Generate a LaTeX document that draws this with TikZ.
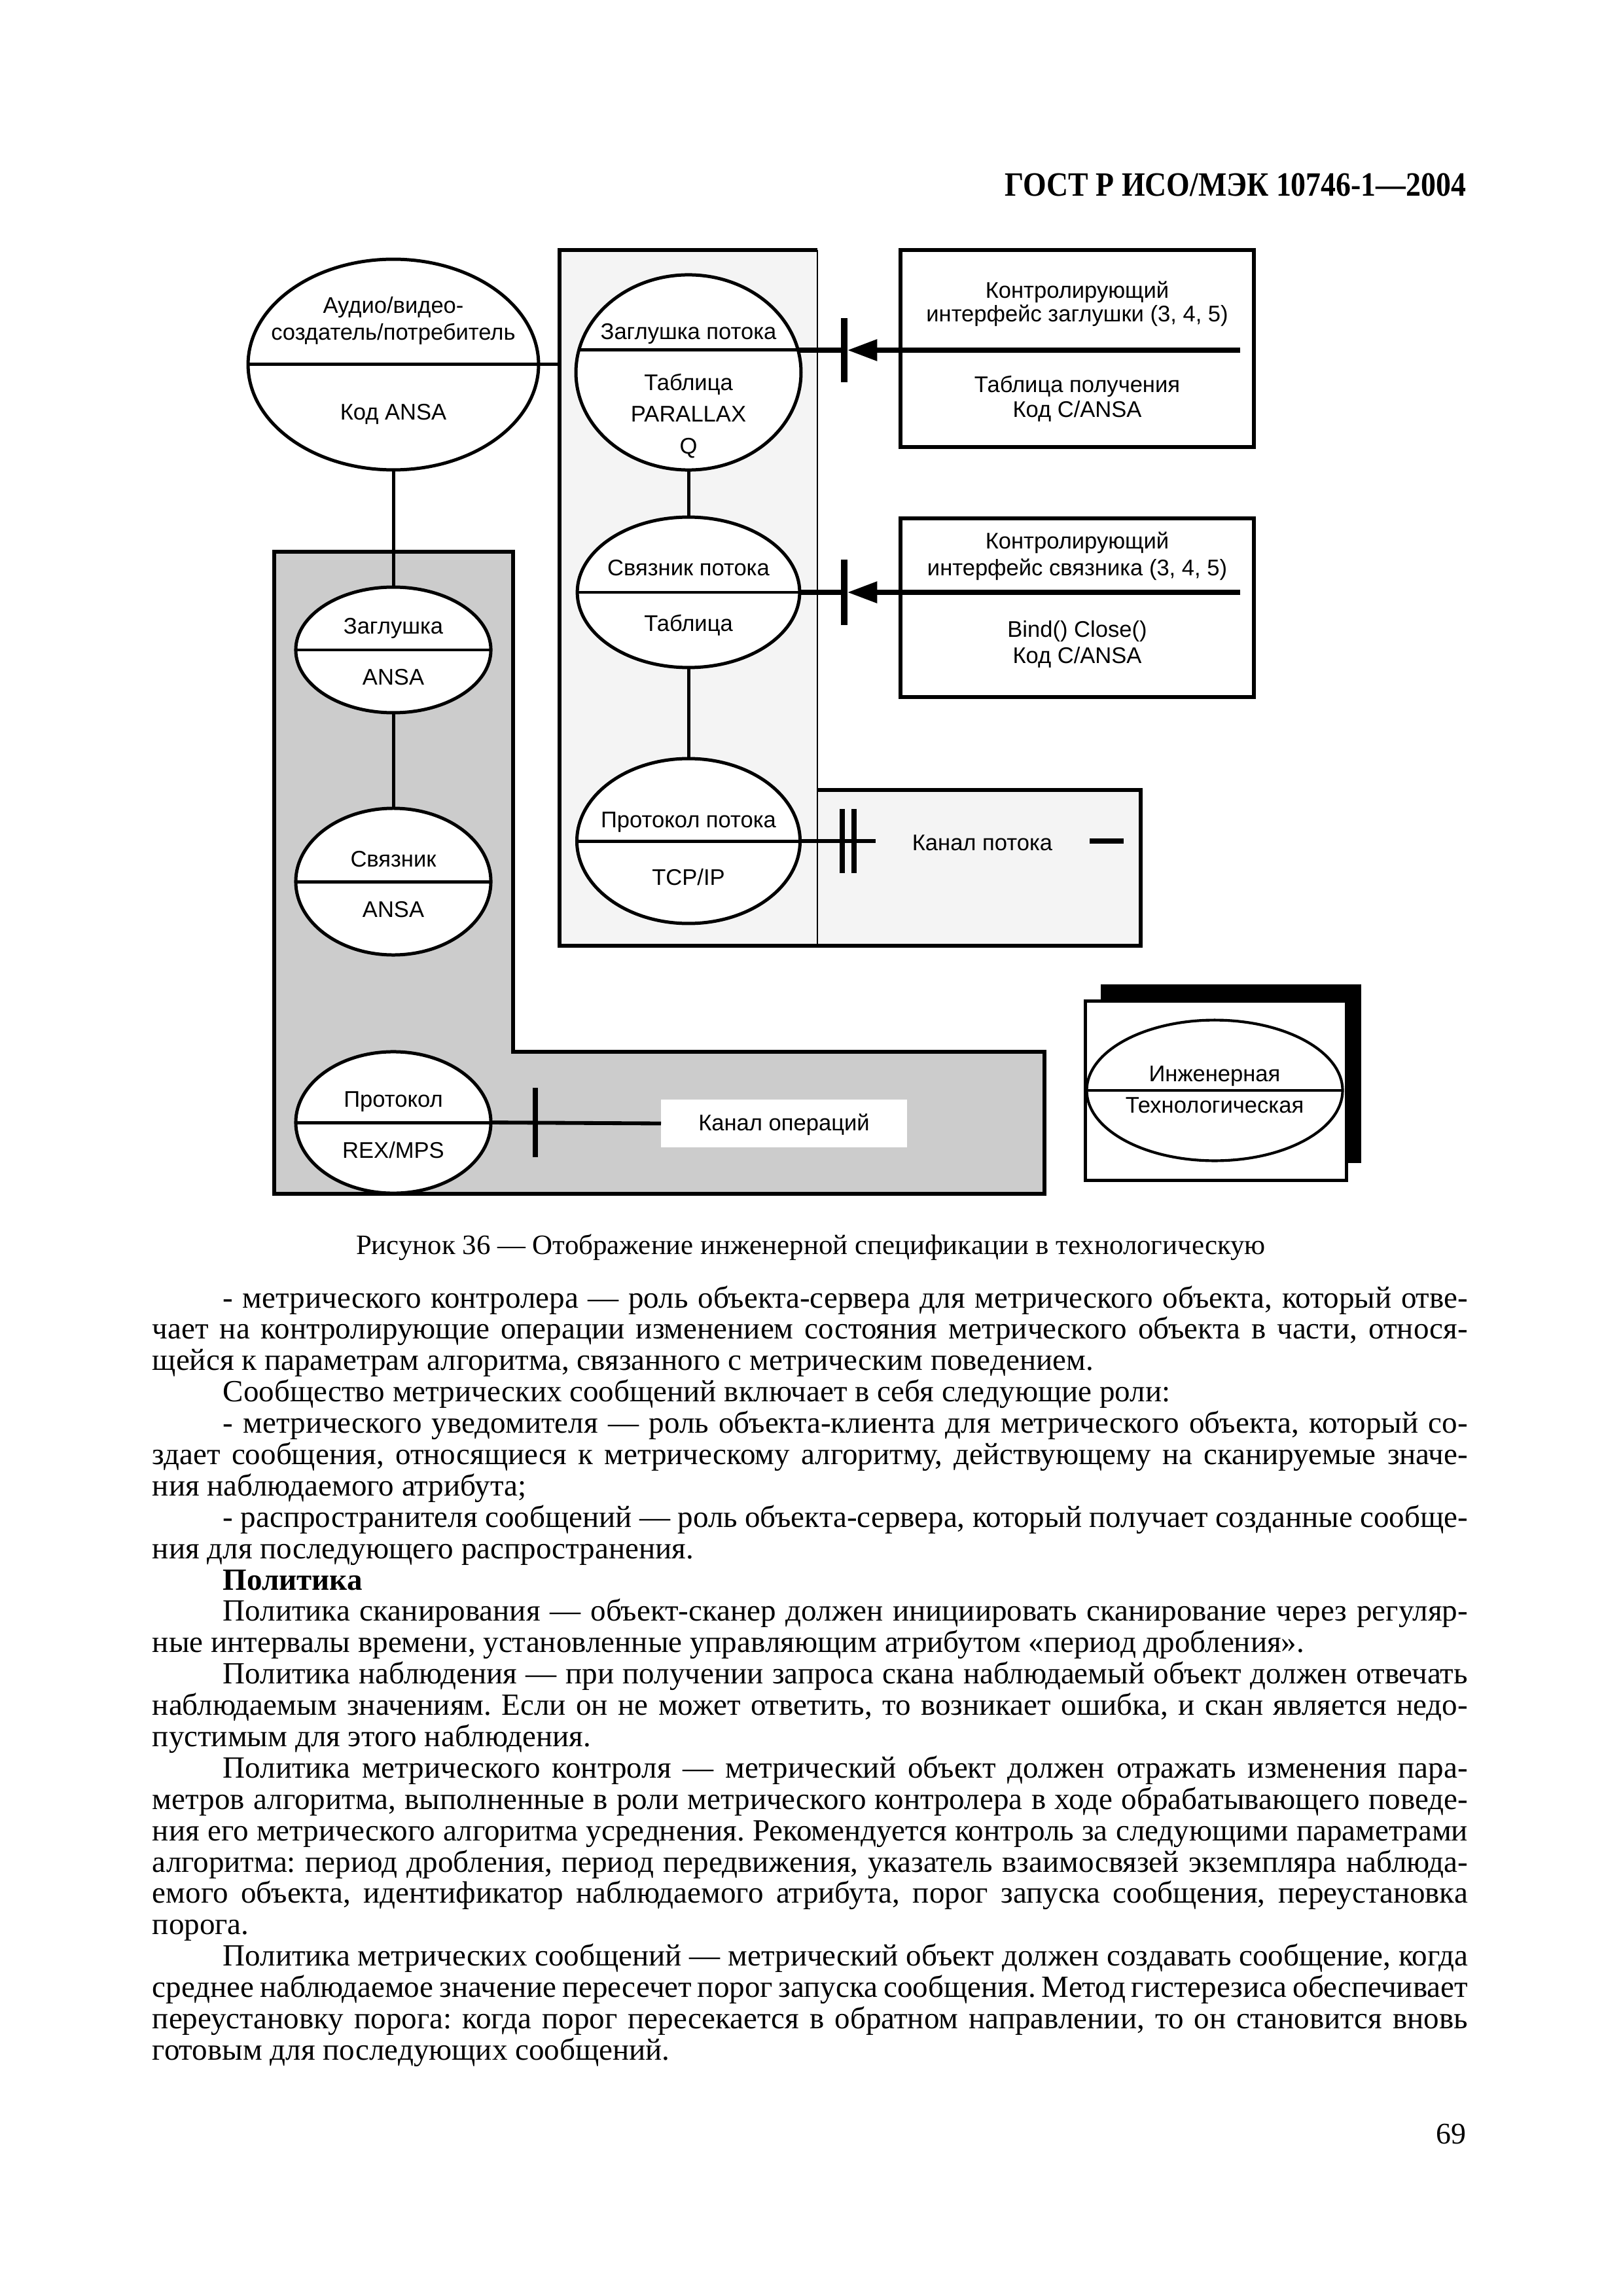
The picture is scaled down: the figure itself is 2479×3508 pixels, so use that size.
\documentclass[tikz,border=0pt]{standalone}
\usepackage{fontspec}
\setmainfont{Liberation Serif}
\newfontfamily\dgfont{Liberation Sans}
\usetikzlibrary{calc,arrows.meta,positioning,shapes.geometric}
\frenchspacing
\tikzset{
  obj/.style={ellipse, draw=black, line width=1.2pt, fill=white, inner sep=0pt, outer sep=0pt},
  lbl/.style={font=\dgfont\fontsize{8.3}{9.2}\selectfont, inner sep=0pt, anchor=base},
  link/.style={line width=1.2pt},
  iface/.style={line width=2pt},
  chan/.style={line width=1.4pt},
  ctrlbox/.style={draw=black, line width=1.4pt, fill=white, inner sep=0pt, outer sep=0pt},
  tick/.style={fill=black, inner sep=0pt, outer sep=0pt, minimum width=1.8pt},
  arr/.style={iface, -{Triangle[length=11pt,width=7.5pt]}},
  bodytext/.style={font=\fontsize{11.3}{11.5}\selectfont, inner sep=0pt}
}

\begin{document}
\begin{tikzpicture}[x=0.24014pt, y=-0.24014pt]
  \useasboundingbox (0,0) rectangle (2479,3508);

  % header
  \node[bodytext, font=\bfseries\fontsize{12.5}{14}\selectfont, anchor=base east] (gost) at (2241,300) {\scalebox{0.88}[1]{ГОСТ Р ИСО/МЭК 10746-1—2004}};

  % regions
  \draw[line width=1.5pt, fill=gray!40] (419,843) -- (784,843) -- (784,1607) -- (1596,1607) -- (1596,1824) -- (419,1824) -- cycle;
  \fill[gray!9] (855,382) rectangle (1249,1445);
  \fill[gray!9] (1249,1207) rectangle (1743,1445);
  \draw[line width=1.4pt] (1249,382) -- (855,382) -- (855,1445) -- (1743,1445) -- (1743,1207) -- (1249,1207);
  \draw[line width=0.5pt] (1249,382) -- (1249,1445);
  \coordinate (streamw) at (855,557);

  % control boxes
  \node[ctrlbox, minimum width=129.7pt, minimum height=72.3pt] (cb1) at (1646,532.5) {};
  \node[ctrlbox, minimum width=129.7pt, minimum height=65.6pt] (cb2) at (1646,928.5) {};
  \node[fill=white, inner sep=0pt, outer sep=0pt, minimum width=90.3pt, minimum height=17.5pt] (opsbox) at (1198,1716.5) {};

  % engineering / technology box
  \node[fill=black, inner sep=0pt, minimum width=95.6pt, minimum height=65.6pt] (enshadow) at (1881,1640.5) {};
  \node[ctrlbox, line width=1.2pt, minimum width=95.6pt, minimum height=65.6pt] (enbox) at (1858,1666.5) {};

  % objects
  \node[obj, minimum width=106.6pt, minimum height=77.3pt] (av) at (601,557) {};
  \node[obj, minimum width=82.6pt, minimum height=71.6pt] (zs) at (1052,569) {};
  \node[obj, minimum width=81.6pt, minimum height=55.2pt] (sp) at (1052,905) {};
  \node[obj, minimum width=81.9pt, minimum height=60.5pt] (pp) at (1052,1285) {};
  \node[obj, minimum width=71.6pt, minimum height=46.1pt] (zg) at (601,993) {};
  \node[obj, minimum width=71.6pt, minimum height=53.8pt] (sv) at (601,1347) {};
  \node[obj, minimum width=71.6pt, minimum height=51.9pt] (pr) at (601,1715) {};
  \node[obj, line width=1pt, minimum width=93.9pt, minimum height=51.6pt] (en) at (1856,1666) {};

  % dividers
  \draw[link] (av.west) -- (av.east);
  \draw[link] ($(zs.center)+(-167.5,-34)$) coordinate (zsl) -- ($(zs.center)+(167.5,-34)$) coordinate (zsr);
  \draw[link] (sp.west) -- (sp.east);
  \draw[link] (pp.west) -- (pp.east);
  \draw[link] (zg.west) -- (zg.east);
  \draw[link] (sv.west) -- (sv.east);
  \draw[link] (pr.west) -- (pr.east);
  \draw[line width=1pt] (en.west) -- (en.east);

  % links
  \draw[link] (av.east) -- (streamw);
  \draw[link] (av.south) -- (zg.north);
  \draw[link] (zg.south) -- (sv.north);
  \draw[link] (zs.south) -- (sp.north);
  \draw[link] (sp.south) -- (pp.north);

  % interfaces
  \node[tick, minimum width=2.2pt, minimum height=23.5pt] (t1) at (1290,535) {};
  \node[tick, minimum width=2.2pt, minimum height=24pt] (t2) at (1290,905) {};
  \coordinate (c1in) at (1895,535);
  \coordinate (c2in) at (1895,905);
  \draw[iface] (zsr) -- (t1);
  \draw[arr] (c1in) -- (t1);
  \draw[iface] (sp.east) -- (t2);
  \draw[arr] (c2in) -- (t2);

  % channels
  \node[tick, minimum height=23.5pt] (t3a) at (1287,1285) {};
  \node[tick, minimum height=23.5pt] (t3b) at (1305,1285) {};
  \coordinate (ppend) at (1338,1285);
  \coordinate (dasha) at (1665,1285);
  \coordinate (dashb) at (1717,1285);
  \draw[chan] (pp.east) -- (ppend);
  \draw[iface] (dasha) -- (dashb);
  \node[tick, minimum height=25.5pt] (t4) at (818,1715) {};
  \draw[chan] (pr.east) -- (opsbox.west);

  % labels
  \node[lbl] (av1) at (601,479) {Аудио/видео-};
  \node[lbl] (av2) at (601,520) {создатель/потребитель};
  \node[lbl] (av3) at (601,642) {Код ANSA};
  \node[lbl] (zs1) at (1052,519) {Заглушка потока};
  \node[lbl] (zs2) at (1052,597) {Таблица};
  \node[lbl] (zs3) at (1052,645) {PARALLAX};
  \node[lbl] (zs4) at (1052,694) {Q};
  \node[lbl] (sp1) at (1052,879) {Связник потока};
  \node[lbl] (sp2) at (1052,965) {Таблица};
  \node[lbl] (pp1) at (1052,1264) {Протокол потока};
  \node[lbl] (pp2) at (1052,1352) {TCP/IP};
  \node[lbl] (zg1) at (601,969) {Заглушка};
  \node[lbl] (zg2) at (601,1046) {ANSA};
  \node[lbl] (sv1) at (601,1324) {Связник};
  \node[lbl] (sv2) at (601,1401) {ANSA};
  \node[lbl] (pr1) at (601,1691) {Протокол};
  \node[lbl] (pr2) at (601,1769) {REX/MPS};
  \node[lbl] (en1) at (1856,1652) {Инженерная};
  \node[lbl] (en2) at (1856,1700) {Технологическая};
  \node[lbl] (cb11) at (1646,456) {Контролирующий};
  \node[lbl] (cb12) at (1646,492) {интерфейс заглушки (3, 4, 5)};
  \node[lbl] (cb13) at (1646,600) {Таблица получения};
  \node[lbl] (cb14) at (1646,638) {Код C/ANSA};
  \node[lbl] (cb21) at (1646,839) {Контролирующий};
  \node[lbl] (cb22) at (1646,879) {интерфейс связника (3, 4, 5)};
  \node[lbl] (cb23) at (1646,974) {Bind() Close()};
  \node[lbl] (cb24) at (1646,1014) {Код C/ANSA};
  \node[lbl] (chs) at (1501,1299) {Канал потока};
  \node[lbl] (cho) at (1198,1727) {Канал операций};

  % caption and text
  \node[bodytext, font=\fontsize{10.3}{12}\selectfont, anchor=base] (caption) at (1239,1916) {Рисунок 36 — Отображение инженерной спецификации в технологическую};
  \node[bodytext, anchor=base west, text width=482.7pt, align=justify] (body) at (232,1998) {\tolerance=9999\hyphenpenalty=10000\frenchspacing
    \hspace*{25.9pt}- метрического контролера — роль объекта-сервера для метрического объекта, который отве-\linebreak чает на контролирующие операции изменением состояния метрического объекта в части, относя-\linebreak щейся к параметрам алгоритма, связанного с метрическим поведением.\par
    \hspace*{25.9pt}Сообщество метрических сообщений включает в себя следующие роли:\par
    \hspace*{25.9pt}- метрического уведомителя — роль объекта-клиента для метрического объекта, который со-\linebreak здает сообщения, относящиеся к метрическому алгоритму, действующему на сканируемые значе-\linebreak ния наблюдаемого атрибута;\par
    \hspace*{25.9pt}- распространителя сообщений — роль объекта-сервера, который получает созданные сообще-\linebreak ния для последующего распространения.\par
    \hspace*{25.9pt}\textbf{Политика}\par
    \hspace*{25.9pt}Политика сканирования — объект-сканер должен инициировать сканирование через регуляр-\linebreak ные интервалы времени, установленные управляющим атрибутом «период дробления».\par
    \hspace*{25.9pt}Политика наблюдения — при получении запроса скана наблюдаемый объект должен отвечать\linebreak наблюдаемым значениям. Если он не может ответить, то возникает ошибка, и скан является недо-\linebreak пустимым для этого наблюдения.\par
    \hspace*{25.9pt}Политика метрического контроля — метрический объект должен отражать изменения пара-\linebreak метров алгоритма, выполненные в роли метрического контролера в ходе обрабатывающего поведе-\linebreak ния его метрического алгоритма усреднения. Рекомендуется контроль за следующими параметрами\linebreak алгоритма: период дробления, период передвижения, указатель взаимосвязей экземпляра наблюда-\linebreak емого объекта, идентификатор наблюдаемого атрибута, порог запуска сообщения, переустановка\linebreak порога.\par
    \hspace*{25.9pt}Политика метрических сообщений — метрический объект должен создавать сообщение, когда\linebreak среднее наблюдаемое значение пересечет порог запуска сообщения. Метод гистерезиса обеспечивает\linebreak переустановку порога: когда порог пересекается в обратном направлении, то он становится вновь\linebreak готовым для последующих сообщений.\par};
  \node[bodytext, font=\fontsize{11}{13}\selectfont, anchor=base east] (pageno) at (2241,3275) {69};
\end{tikzpicture}
\end{document}
